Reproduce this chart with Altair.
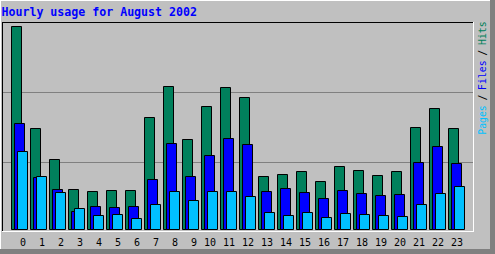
import altair as alt
import pandas as pd

hours = list(range(24))
hits = [203, 101, 70, 40, 38, 39, 39, 112, 143, 90, 123, 142, 132, 53, 55, 58, 48, 63, 59, 54, 58, 102, 121, 101]
files = [106, 52, 40, 18, 23, 22, 23, 50, 86, 53, 74, 91, 85, 38, 41, 37, 31, 39, 36, 34, 35, 67, 83, 66]
pages = [78, 53, 37, 21, 14, 15, 11, 25, 38, 29, 38, 38, 33, 17, 14, 17, 12, 16, 15, 14, 13, 25, 36, 43]
grid_values = [67, 137]
title_text = "Hourly usage for August 2002"
legend_parts = [("Pages", "#00C0FF", 120), ("/", "#000000", 97.6), ("Files", "#0000FF", 75.2),
                ("/", "#000000", 52.8), ("Hits", "#00805C", 33.2)]

df = pd.DataFrame({"hour": hours, "hits": hits, "files": files, "pages": pages,
                   "label": [str(h) for h in hours]})
grid_df = pd.DataFrame({"g": grid_values})
one = pd.DataFrame({"a": [0]})

xs = alt.Scale(domain=[0, 23], range=[16.5, 453.5], padding=0)
ys = alt.Scale(domain=[0, 203], range=[229.5, 26.5])

def rect(x, x2, y, y2, color):
    return alt.Chart(one).mark_rect(color=color).encode(
        x=alt.value(x), x2=alt.value(x2), y=alt.value(y), y2=alt.value(y2))

def rule(x, x2, y, y2, color):
    return alt.Chart(one).mark_rule(color=color, strokeWidth=1).encode(
        x=alt.value(x), x2=alt.value(x2), y=alt.value(y), y2=alt.value(y2))

layers = [
    rect(490, 495, 0, 254, "#808080"),
    rect(0, 495, 249, 254, "#808080"),
    rule(0, 490, 0.5, 0.5, "#FFFFFF"),
    rule(0.5, 0.5, 0, 249, "#FFFFFF"),
]

grid = alt.Chart(grid_df).mark_rule(color="#808080", strokeWidth=1).encode(
    y=alt.Y("g:Q", scale=ys, axis=None), x=alt.value(3), x2=alt.value(473))
layers.append(grid)

def bars(field, color, off):
    return alt.Chart(df).mark_bar(width=10, xOffset=off, color=color, stroke="#000000",
                                  strokeWidth=1, opacity=1).encode(
        x=alt.X("hour:Q", scale=xs, axis=None),
        y=alt.Y(f"{field}:Q", scale=ys, axis=None))

layers += [bars("hits", "#00805C", 0), bars("files", "#0000FF", 3), bars("pages", "#00C0FF", 6)]

layers += [
    rule(2, 473.5, 22.5, 22.5, "#000000"),
    rule(2.5, 2.5, 22, 231, "#000000"),
    rule(2, 474, 231.5, 231.5, "#FFFFFF"),
    rule(473.5, 473.5, 22, 232, "#FFFFFF"),
]

labels = alt.Chart(df).mark_text(align="right", baseline="alphabetic", dx=9.5,
                                 font="DejaVu Sans Mono", fontSize=10, color="#000000").encode(
    x=alt.X("hour:Q", scale=xs, axis=None), y=alt.value(246), text="label:N")
layers.append(labels)

title = alt.Chart(one).mark_text(align="left", baseline="alphabetic", font="DejaVu Sans Mono",
                                 fontSize=11.6, fontWeight="bold", color="#0000FF").encode(
    x=alt.value(1.5), y=alt.value(16), text=alt.value(title_text))
layers.append(title)

for txt, col, yc in legend_parts:
    layers.append(alt.Chart(one).mark_text(angle=270, align="center", baseline="middle",
                                           font="DejaVu Sans Mono", fontSize=9.8, color=col).encode(
        x=alt.value(482.5), y=alt.value(yc), text=alt.value(txt)))

chart = alt.layer(*layers).properties(
    width=495, height=254, autosize=alt.AutoSizeParams(type="none"), padding=0,
    background="#C0C0C0").configure_view(stroke=None)

chart.save("out.html", embed_options={"renderer": "svg", "actions": False})
